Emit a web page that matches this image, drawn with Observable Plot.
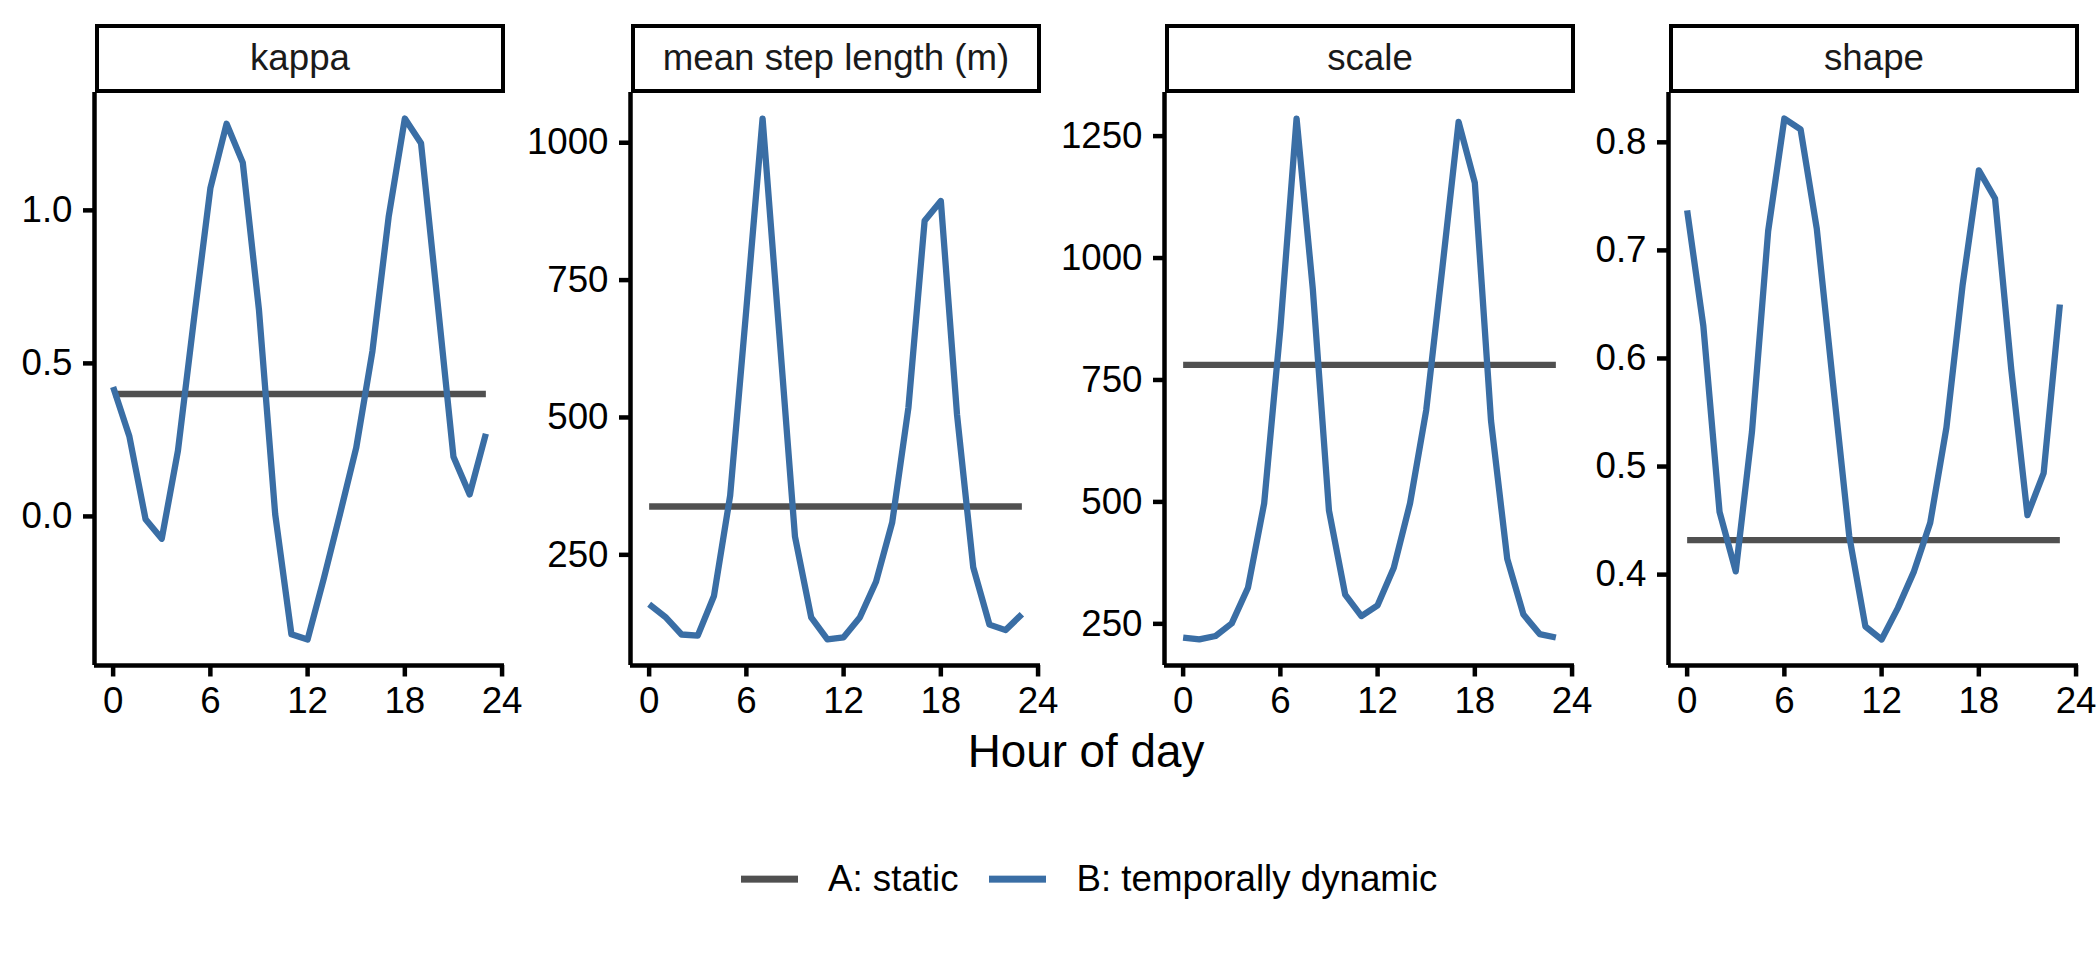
<!DOCTYPE html>
<html>
<head>
<meta charset="utf-8">
<script src="https://cdn.jsdelivr.net/npm/d3@7"></script>
<script src="https://cdn.jsdelivr.net/npm/@observablehq/plot@0.6"></script>
<style>
  html, body { margin: 0; padding: 0; background: #ffffff; }
  #chart { position: relative; width: 2100px; height: 960px; overflow: hidden; background: #ffffff;
           font-family: "Liberation Sans", Arial, Helvetica, sans-serif; color: #000; }
  .strip { position: absolute; box-sizing: border-box; border: 4px solid #000; background: #fff;
           display: flex; align-items: center; justify-content: center; font-size: 36.7px; color: #1a1a1a; line-height: 1; }
  .xtitle { position: absolute; font-size: 45.8px; line-height: 1; transform: translate(-50%, -50%); white-space: nowrap; }
  .legend { position: absolute; display: flex; align-items: center; font-size: 36.7px; line-height: 1; transform: translateY(-50%); white-space: nowrap; }
  .sw { width: 57px; height: 6.3px; }
</style>
</head>
<body>
<div id="chart"></div>
<script>
// ---- data ----
const hours = [0,1,2,3,4,5,6,7,8,9,10,11,12,13,14,15,16,17,18,19,20,21,22,23];

const panelNames = ["kappa", "mean step length (m)", "scale", "shape"];

const kappaDynamic = [0.423,0.262,-0.009,-0.073,0.215,0.65,1.072,1.283,1.156,0.674,0.007,-0.385,-0.402,-0.203,0.008,0.224,0.54,0.978,1.30,1.219,0.709,0.195,0.072,0.27];
const kappaStatic = 0.40;

const stepDynamic = [160,137,105,103,175,358,698,1044,664,283,136,96,100,136,201,309,518,858,894,505,227,123,113,142];
const stepStatic = 338;

const scaleDynamic = [222,218,225,251,324,497,856,1286,937,482,310,266,288,365,497,688,981,1279,1154,666,383,269,229,222];
const scaleStatic = 781;

const shapeDynamic = [0.737,0.630,0.458,0.403,0.532,0.718,0.822,0.812,0.720,0.577,0.436,0.352,0.340,0.369,0.403,0.448,0.536,0.668,0.774,0.748,0.590,0.455,0.494,0.650];
const shapeStatic = 0.432;

const xTicks = [0, 6, 12, 18, 24];
const kappaTicks = [0.0, 0.5, 1.0];
const stepTicks = [250, 500, 750, 1000];
const scaleTicks = [250, 500, 750, 1000, 1250];
const shapeTicks = [0.4, 0.5, 0.6, 0.7, 0.8];

const seriesLabels = ["A: static", "B: temporally dynamic"];
const seriesColors = ["#505050", "#3A6EA5"];
const xTitle = "Hour of day";

// ---- layout ----
const panelLefts = [94, 630, 1164, 1668];
const PW = 410, PH = 573, PTOP = 92;
const ML = 140, MB = 70;
const STRIP_TOP = 24, STRIP_H = 69;

const panels = [
  {name: panelNames[0], dyn: kappaDynamic, stat: kappaStatic, ticks: kappaTicks, fmt: d3.format(".1f")},
  {name: panelNames[1], dyn: stepDynamic, stat: stepStatic, ticks: stepTicks, fmt: d3.format("d")},
  {name: panelNames[2], dyn: scaleDynamic, stat: scaleStatic, ticks: scaleTicks, fmt: d3.format("d")},
  {name: panelNames[3], dyn: shapeDynamic, stat: shapeStatic, ticks: shapeTicks, fmt: d3.format(".1f")}
];

const chart = document.getElementById("chart");

function expand(ext) {
  const r = ext[1] - ext[0];
  return [ext[0] - 0.05 * r, ext[1] + 0.05 * r];
}

const xDom = expand(d3.extent(hours));

panels.forEach((p, i) => {
  const dynData = hours.map((h, j) => ({hour: h, value: p.dyn[j], series: seriesLabels[1]}));
  const statData = hours.map(h => ({hour: h, value: p.stat, series: seriesLabels[0]}));
  const yDom = expand(d3.extent([...p.dyn, p.stat]));

  const svg = Plot.plot({
    width: ML + PW,
    height: PH + MB,
    marginLeft: ML,
    marginRight: 0,
    marginTop: 0,
    marginBottom: MB,
    style: {fontFamily: '"Liberation Sans", Arial, Helvetica, sans-serif', fontSize: "36.7px",
            background: "transparent", overflow: "visible", maxWidth: "none", color: "#000"},
    x: {domain: xDom},
    y: {domain: yDom},
    marks: [
      Plot.line(statData, {x: "hour", y: "value", stroke: seriesColors[0], strokeWidth: 6.3,
                           strokeLinecap: "butt", strokeLinejoin: "round"}),
      Plot.line(dynData, {x: "hour", y: "value", stroke: seriesColors[1], strokeWidth: 6.3,
                          strokeLinecap: "butt", strokeLinejoin: "round"}),
      Plot.ruleX([xDom[0]], {stroke: "#000", strokeWidth: 4.5}),
      Plot.ruleY([yDom[0]], {stroke: "#000", strokeWidth: 4.5}),
      Plot.axisX({ticks: xTicks, tickFormat: d => String(d), tickSize: 11.5, tickPadding: 10,
                  fontSize: 36.7, strokeWidth: 4.5, stroke: "#000", fill: "#000", label: null}),
      Plot.axisY({ticks: p.ticks, tickFormat: p.fmt, tickSize: 11, tickPadding: 11,
                  fontSize: 36.7, strokeWidth: 4.5, stroke: "#000", fill: "#000", label: null})
    ]
  });
  svg.style.position = "absolute";
  svg.style.left = (panelLefts[i] - ML) + "px";
  svg.style.top = PTOP + "px";
  chart.appendChild(svg);

  const strip = document.createElement("div");
  strip.className = "strip";
  strip.style.left = (panelLefts[i] + 1) + "px";
  strip.style.top = STRIP_TOP + "px";
  strip.style.width = PW + "px";
  strip.style.height = STRIP_H + "px";
  strip.textContent = p.name;
  chart.appendChild(strip);
});

// x-axis title centered across panels
const xt = document.createElement("div");
xt.className = "xtitle";
xt.textContent = xTitle;
xt.style.left = ((panelLefts[0] + panelLefts[3] + PW) / 2) + "px";
xt.style.top = "752px";
chart.appendChild(xt);

// legend
const lg = document.createElement("div");
lg.className = "legend";
lg.style.left = "741px";
lg.style.top = "879px";
seriesLabels.forEach((lab, k) => {
  const sw = document.createElement("div");
  sw.className = "sw";
  sw.style.background = seriesColors[k];
  sw.style.marginRight = "30px";
  const t = document.createElement("span");
  t.textContent = lab;
  if (k === 0) t.style.marginRight = "31px";
  lg.appendChild(sw);
  lg.appendChild(t);
});
chart.appendChild(lg);
</script>
</body>
</html>
